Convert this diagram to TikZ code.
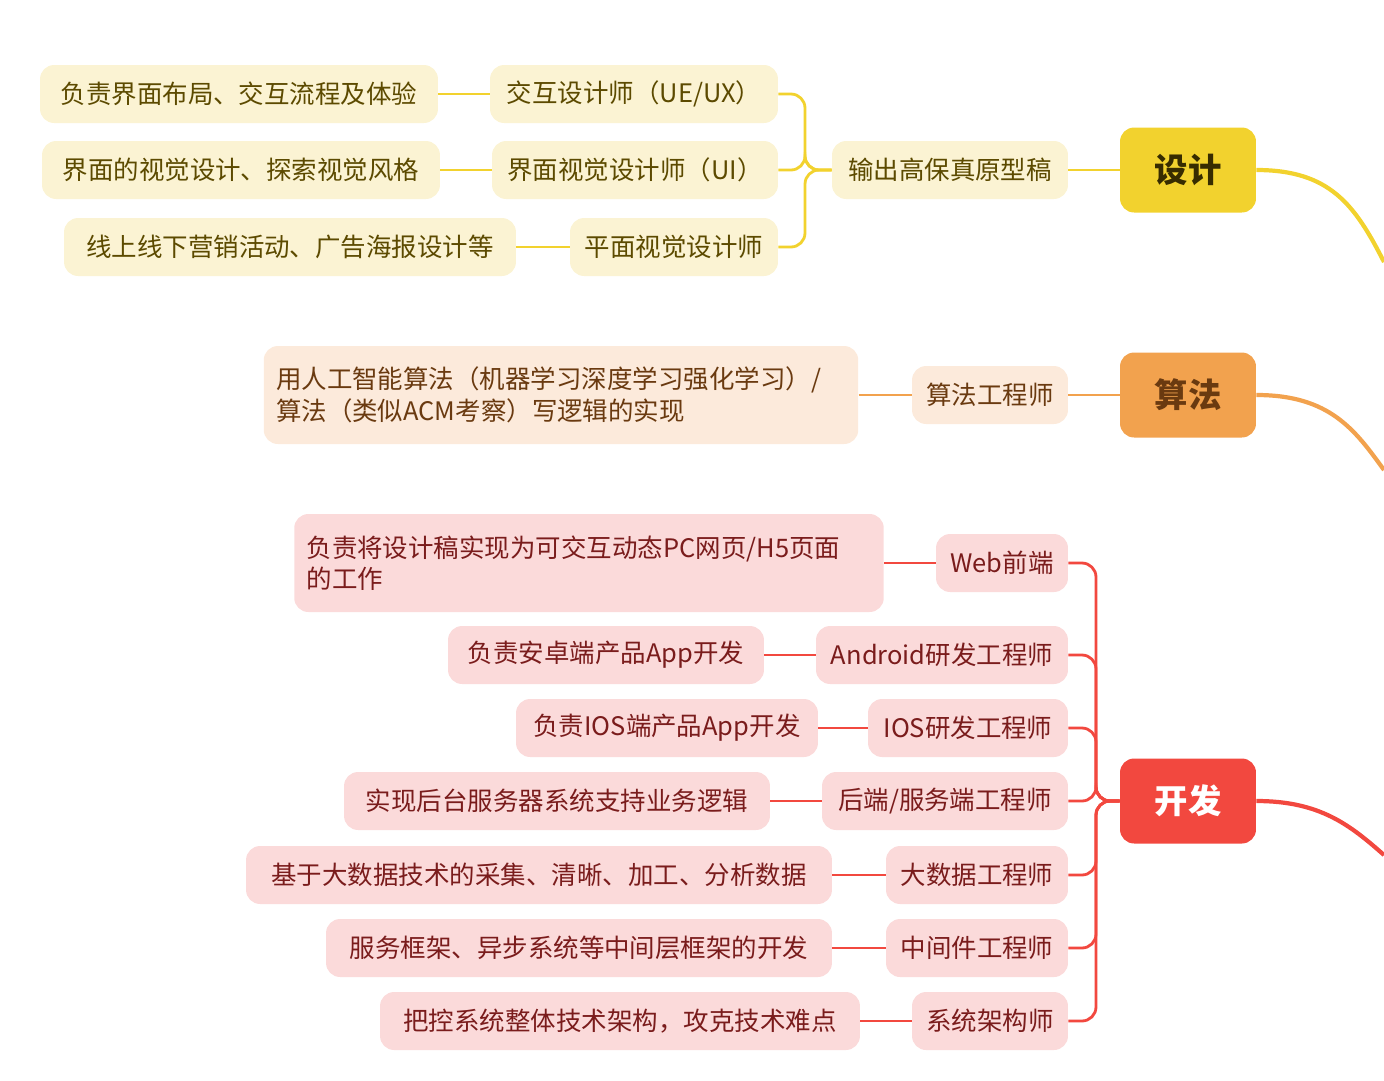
\documentclass[tikz,border=0pt]{standalone}
\usepackage{fontspec}
\setmainfont{Noto Sans CJK SC}
\definecolor{dsgmain}{HTML}{F2D22E}
\definecolor{dsglight}{HTML}{FBF3D3}
\definecolor{dsgtext}{HTML}{5C4A00}
\definecolor{algmain}{HTML}{F2A24E}
\definecolor{alglight}{HTML}{FCEADB}
\definecolor{algtext}{HTML}{6A3A10}
\definecolor{devmain}{HTML}{F2483F}
\definecolor{devlight}{HTML}{FBDADA}
\definecolor{devtext}{HTML}{7A1C1C}
\tikzset{
   mainbox/.style={fill=#1, rounded corners=8pt, minimum width=2.72cm, minimum height=1.7cm, font=\fontsize{19}{22}\selectfont\bfseries},
   itembox/.style={fill=#1, rounded corners=8pt, minimum height=1.16cm, inner xsep=6pt, font=\fontsize{14.5}{18}\selectfont},
   link/.style={draw=#1, line width=1.6pt, rounded corners=8pt}
}
\begin{document}
\begin{tikzpicture}[x=0.02cm,y=-0.02cm]
   \useasboundingbox (0,0) rectangle (1384,1080);
   % design
   \node[mainbox=dsgmain, text=dsgtext!60!black] (dsg) at (1188,170) {设计};
   \node[itembox=dsglight, text=dsgtext, minimum width=4.72cm] (dsgout) at (950,170) {输出高保真原型稿};
   \foreach \no / \x / \y / \w / \na in {
      ux/634/94/5.76/{交互设计师（UE/UX）},
      ui/635/170/5.72/界面视觉设计师（UI）,
      gd/674/247/4.16/平面视觉设计师} {
      \node[itembox=dsglight, text=dsgtext, minimum width=\w cm] (\no) at (\x,\y) {\na};
      \draw[link=dsgmain] (\no.east) -| (805,170) -- (dsgout.west);
   }
   \foreach \no / \x / \y / \w / \na in {
      ux/239/94/7.96/负责界面布局、交互流程及体验,
      ui/241/170/7.96/界面的视觉设计、探索视觉风格,
      gd/290/247/9.04/线上线下营销活动、广告海报设计等} {
      \node[itembox=dsglight, text=dsgtext, minimum width=\w cm] (\no d) at (\x,\y) {\na};
      \draw[link=dsgmain] (\no d.east) -- (\no.west);
   }
   \draw[link=dsgmain] (dsgout.east) -- (dsg.west);
   \coordinate (dsgend) at (1384,262);
   \draw[dsgmain, line width=2.4pt] (dsg.east) .. controls (1330,170) and (1355,205) .. (dsgend);
   % algorithm
   \node[mainbox=algmain, text=algtext] (alg) at (1188,395) {算法};
   \node[itembox=alglight, text=algtext, minimum width=3.12cm] (algeng) at (990,395) {算法工程师};
   \node[itembox=alglight, text=algtext, text width=11.4cm, align=left, minimum height=1.96cm, inner xsep=7pt] (algd) at (561,395)
      {用人工智能算法（机器学习深度学习强化学习）/\\算法（类似ACM考察）写逻辑的实现};
   \draw[link=algmain] (algd.east) -- (algeng.west);
   \draw[link=algmain] (algeng.east) -- (alg.west);
   \coordinate (algend) at (1384,470);
   \draw[algmain, line width=2.4pt] (alg.east) .. controls (1330,395) and (1355,430) .. (algend);
   % development
   \node[mainbox=devmain, text=white] (dev) at (1188,801) {开发};
   \node[itembox=devlight, text=devtext, minimum width=2.64cm] (web) at (1002,563) {Web前端};
   \node[itembox=devlight, text=devtext, text width=11.3cm, align=left, minimum height=1.96cm, inner xsep=7pt] (webd) at (589,563)
      {负责将设计稿实现为可交互动态PC网页/H5页面\\的工作};
   \draw[link=devmain] (webd.east) -- (web.west);
   \draw[link=devmain] (web.east) -| (1096,801) -- (dev.west);
   \foreach \no / \x / \y / \w / \na / \dx / \dw / \dna in {
      and/942/655/5.04/Android研发工程师/606/6.32/负责安卓端产品App开发,
      ios/968/728/4.0/IOS研发工程师/667/6.04/负责IOS端产品App开发,
      srv/945/801/4.92/{后端/服务端工程师}/557/8.52/实现后台服务器系统支持业务逻辑,
      big/977/875/3.64/大数据工程师/539/11.72/基于大数据技术的采集、清晰、加工、分析数据,
      mid/977/948/3.64/中间件工程师/579/10.12/服务框架、异步系统等中间层框架的开发,
      arc/990/1021/3.12/系统架构师/620/9.6/把控系统整体技术架构，攻克技术难点} {
      \node[itembox=devlight, text=devtext, minimum width=\w cm] (\no) at (\x,\y) {\na};
      \node[itembox=devlight, text=devtext, minimum width=\dw cm] (\no d) at (\dx,\y) {\dna};
      \draw[link=devmain] (\no d.east) -- (\no.west);
      \draw[link=devmain] (\no.east) -| (1096,801) -- (dev.west);
   }
   \coordinate (devend) at (1384,855);
   \draw[devmain, line width=2.4pt] (dev.east) .. controls (1320,801) and (1350,825) .. (devend);
\end{tikzpicture}
\end{document}
